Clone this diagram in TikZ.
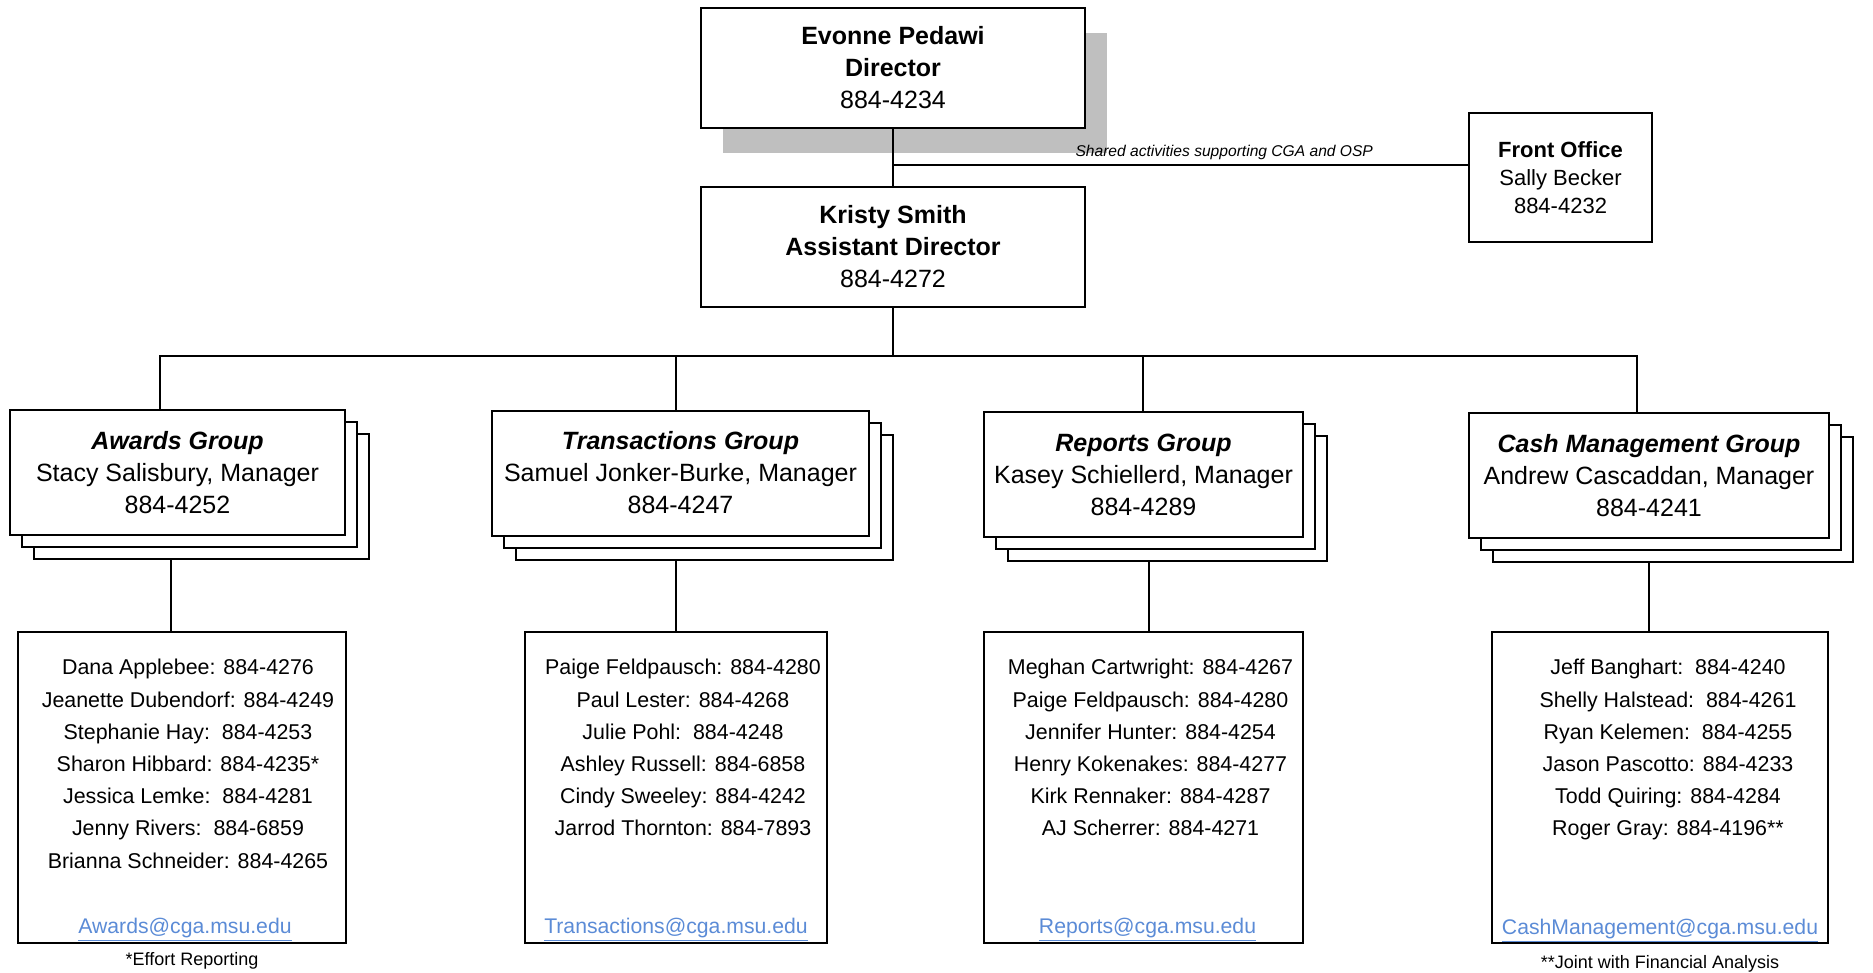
\documentclass[tikz,border=0pt]{standalone}
\usepackage{fontspec}
\setmainfont{Liberation Sans}
\usepackage{tikz}
\usetikzlibrary{positioning,shadows,calc}
\definecolor{maillink}{HTML}{5B8BD6}

\begin{document}
\begin{tikzpicture}[x=0.5pt, y=-0.5pt,
  head/.style={draw, line width=1pt, fill=white, align=center, inner sep=0pt,
    minimum width=192pt, minimum height=60pt, font=\fontsize{12.5}{16}\selectfont},
  side/.style={draw, line width=1pt, fill=white, align=center, inner sep=0pt,
    minimum width=91.5pt, minimum height=64.5pt, font=\fontsize{11}{14}\selectfont},
  grp/.style={draw, line width=1pt, fill=white, align=center, inner sep=0pt,
    minimum height=62.5pt, font=\fontsize{12.5}{16}\selectfont,
    general shadow={shadow xshift=12pt, shadow yshift=-12pt, draw, fill=white, line width=1pt},
    general shadow={shadow xshift=6pt, shadow yshift=-6pt, draw, fill=white, line width=1pt}},
  staff/.style={draw, line width=1pt, minimum height=155.5pt, inner sep=0pt},
  names/.style={align=center, inner sep=0pt, font=\fontsize{10.7}{16.1}\selectfont},
  mail/.style={inner sep=0pt, text=maillink, font=\fontsize{10.6}{12}\selectfont},
  fnote/.style={inner sep=0pt, font=\fontsize{9}{11}\selectfont},
  link/.style={line width=0.8pt}]
\useasboundingbox (0,0) rectangle (1873,973);

% management
\node[head, drop shadow={shadow xshift=11pt, shadow yshift=-12.5pt, fill=black!25, opacity=1}] (dir) at (893,68)
  {\textbf{Evonne Pedawi}\\\textbf{Director}\\884-4234};
\node[head] (asst) at (893,247) {\textbf{Kristy Smith}\\\textbf{Assistant Director}\\884-4272};
\node[side] (front) at (1560.5,177.5) {\textbf{Front Office}\\Sally Becker\\884-4232};

% groups
\node[grp, minimum width=167.5pt] (awgrp) at (177.5,472.5)
  {{\bfseries\itshape Awards Group}\\Stacy Salisbury, Manager\\884-4252};
\node[grp, minimum width=188.5pt] (trgrp) at (680.5,473)
  {{\bfseries\itshape Transactions Group}\\Samuel Jonker-Burke, Manager\\884-4247};
\node[grp, minimum width=159.5pt] (rpgrp) at (1143.5,474.5)
  {{\bfseries\itshape Reports Group}\\Kasey Schiellerd, Manager\\884-4289};
\node[grp, minimum width=180pt] (cmgrp) at (1649,475.5)
  {{\bfseries\itshape Cash Management Group}\\Andrew Cascaddan, Manager\\884-4241};

% staff lists
\node[staff, minimum width=164pt] (awst) at (182,787.5) {};
\node[staff, minimum width=151pt] (trst) at (676,787.5) {};
\node[staff, minimum width=159.5pt] (rpst) at (1143.5,787.5) {};
\node[staff, minimum width=168pt] (cmst) at (1660,787.5) {};

\node[names, below=14pt of awst.north, xshift=3pt] (awnames) {Dana Applebee: 884-4276\\Jeanette Dubendorf: 884-4249\\
  Stephanie Hay:\ \ 884-4253\\Sharon Hibbard: 884-4235*\\Jessica Lemke:\ \ 884-4281\\
  Jenny Rivers:\ \ 884-6859\\Brianna Schneider: 884-4265};
\node[names, below=14pt of trst.north, xshift=3.5pt] (trnames) {Paige Feldpausch: 884-4280\\Paul Lester: 884-4268\\
  Julie Pohl:\ \ 884-4248\\Ashley Russell: 884-6858\\Cindy Sweeley: 884-4242\\Jarrod Thornton: 884-7893};
\node[names, below=14pt of rpst.north, xshift=3.5pt] (rpnames) {Meghan Cartwright: 884-4267\\Paige Feldpausch: 884-4280\\
  Jennifer Hunter: 884-4254\\Henry Kokenakes: 884-4277\\Kirk Rennaker: 884-4287\\AJ Scherrer: 884-4271};
\node[names, below=14pt of cmst.north, xshift=4pt] (cmnames) {Jeff Banghart:\ \ 884-4240\\Shelly Halstead:\ \ 884-4261\\
  Ryan Kelemen:\ \ 884-4255\\Jason Pascotto: 884-4233\\Todd Quiring: 884-4284\\Roger Gray: 884-4196**};

\node[mail, above=1pt of awst.south, xshift=1.5pt] (awmail) {\underline{Awards@cga.msu.edu}};
\node[mail, above=1pt of trst.south] (trmail) {\underline{Transactions@cga.msu.edu}};
\node[mail, above=1pt of rpst.south, xshift=2pt] (rpmail) {\underline{Reports@cga.msu.edu}};
\node[mail, above=0.5pt of cmst.south] (cmmail) {\underline{CashManagement@cga.msu.edu}};

\node[fnote, below=4pt of awst.south, xshift=5pt] (awnote) {*Effort Reporting};
\node[fnote, below=5.5pt of cmst.south] (cmnote) {**Joint with Financial Analysis};

% connectors
\coordinate (tie) at (893,165);
\coordinate (bus) at (895,356);
\draw[link] (dir) -- (asst);
\draw[link] (tie) -- node[above, pos=0.576, inner sep=2pt, font=\fontsize{7.8}{9}\selectfont\itshape]
  {Shared activities supporting CGA and OSP} (tie -| front.west);
\draw[link] (asst) -- (asst |- bus);
\draw[link] ([xshift=-8.75pt]awgrp.north) |- (bus) -| ([xshift=-6pt]cmgrp.north);
\draw[link] ([xshift=-2.25pt]trgrp.north) -- ([xshift=-2.25pt]trgrp.north |- bus);
\draw[link] ([xshift=-0.25pt]rpgrp.north) -- ([xshift=-0.25pt]rpgrp.north |- bus);
\draw[link] ([xshift=-5.5pt]awst.north) -- ([xshift=-5.5pt,yshift=-12pt]awst.north |- awgrp.south);
\draw[link] (trst.north) -- ([yshift=-12pt]trst.north |- trgrp.south);
\draw[link] ([xshift=2.75pt]rpst.north) -- ([xshift=2.75pt,yshift=-12pt]rpst.north |- rpgrp.south);
\draw[link] ([xshift=-5.5pt]cmst.north) -- ([xshift=-5.5pt,yshift=-12pt]cmst.north |- cmgrp.south);
\end{tikzpicture}
\end{document}
